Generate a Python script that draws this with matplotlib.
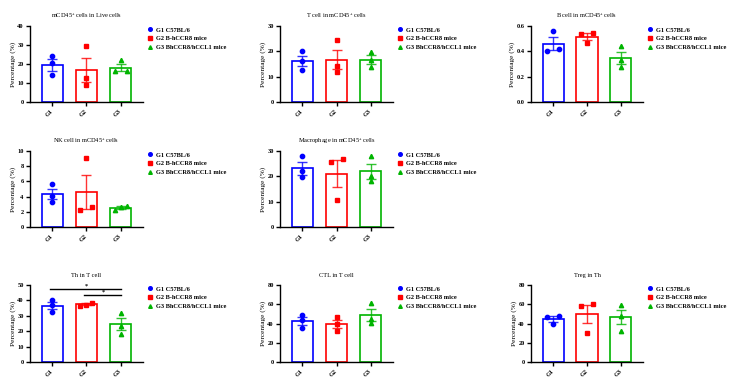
import numpy as np
import matplotlib.pyplot as plt
from matplotlib.lines import Line2D

plt.rcParams['font.family'] = 'Liberation Serif'
plt.rcParams['font.weight'] = 'bold'
plt.rcParams['mathtext.fontset'] = 'custom'
plt.rcParams['mathtext.rm'] = 'Liberation Serif:bold'
plt.rcParams['mathtext.it'] = 'Liberation Serif:bold'
plt.rcParams['mathtext.bf'] = 'Liberation Serif:bold'

groups = ['G1', 'G2', 'G3']
legend_labels = ['G1 C57BL/6', 'G2 B-hCCR8 mice', 'G3 BhCCR8/hCCL1 mice']
colors = ['#0000ff', '#ff0000', '#00b400']
markers = ['o', 's', '^']

# one value per mouse, three mice per group
live_cd45 = [[24.3, 20.4, 14.0], [29.3, 12.4, 8.7], [22.2, 16.1, 16.1]]
tcell_cd45 = [[20.0, 16.0, 12.6], [24.3, 14.2, 11.7], [19.7, 16.5, 13.9]]
bcell_cd45 = [[0.559, 0.418, 0.400], [0.548, 0.540, 0.462], [0.439, 0.334, 0.277]]
nk_cd45 = [[5.66, 4.03, 3.29], [9.08, 2.59, 2.19], [2.76, 2.63, 2.28]]
macro_cd45 = [[28.2, 22.0, 19.6], [26.7, 25.8, 10.5], [27.9, 20.0, 18.3]]
th_t = [[40.3, 37.1, 32.3], [38.6, 37.1, 36.6], [31.7, 23.5, 18.5]]
ctl_t = [[48.7, 43.5, 35.1], [46.3, 39.0, 32.0], [61.6, 44.9, 41.0]]
treg_th = [[48.3, 47.0, 39.3], [60.5, 58.1, 30.6], [59.1, 48.3, 32.7]]

# significance in Th panel: (group a, group b, label)
th_sig = [(0, 2, '*'), (1, 2, '*')]

# title, data, y max, tick step, tick format, row, col
panels = [
    (r'mCD45$^{+}$ cells in Live cells', live_cd45, 40, 10, '%d', 0, 0),
    (r'T cell in mCD45$^{+}$ cells', tcell_cd45, 30, 10, '%d', 0, 1),
    (r'B cell in mCD45$^{+}$ cells', bcell_cd45, 0.6, 0.2, '%.1f', 0, 2),
    (r'NK cell in mCD45$^{+}$ cells', nk_cd45, 10, 2, '%d', 1, 0),
    (r'Macrophage in mCD45$^{+}$ cells', macro_cd45, 30, 10, '%d', 1, 1),
    ('Th in T cell', th_t, 50, 10, '%d', 2, 0),
    ('CTL in T cell', ctl_t, 80, 20, '%d', 2, 1),
    ('Treg in Th', treg_th, 80, 20, '%d', 2, 2),
]

W, H = 742, 383
rows_px = [(26, 102), (151, 227), (285, 362)]
cols_px = [(30, 143), (280, 393), (531, 643)]
fs = 4.6
ms = 3.1


def spread(vals, ymax, h_px, w_units, thresh=3.5, half=6.0):
    # push overlapping points sideways like a prism scatter
    px = np.array(vals) / ymax * h_px
    order = np.argsort(px)
    offs = np.zeros(len(vals))
    clusters = [[order[0]]]
    for i in order[1:]:
        if px[i] - px[clusters[-1][-1]] < thresh:
            clusters[-1].append(i)
        else:
            clusters.append([i])
    for c in clusters:
        if len(c) > 1:
            for k, idx in enumerate(c):
                offs[idx] = np.linspace(-half, half, len(c))[k] / w_units
    return offs


fig = plt.figure(figsize=(W / 100, H / 100), dpi=100)

for title, data, ymax, step, fmt, r, c in panels:
    x0, x1 = cols_px[c]
    y0, y1 = rows_px[r]
    ax = fig.add_axes([x0 / W, 1 - y1 / H, (x1 - x0) / W, (y1 - y0) / H])
    xs = np.arange(len(groups))
    px_per_unit = (x1 - x0) / 3.3
    for i, vals in enumerate(data):
        v = np.array(vals)
        m = v.mean()
        sem = v.std(ddof=1) / np.sqrt(len(v))
        ax.bar(xs[i], m, width=0.62, facecolor='white', edgecolor=colors[i],
               linewidth=1.2, zorder=1)
        offs = spread(v, ymax, y1 - y0, px_per_unit)
        ax.plot(xs[i] + offs, v, linestyle='none', marker=markers[i],
                color=colors[i], markersize=ms, zorder=3, clip_on=False)
        ax.errorbar(xs[i], m, yerr=sem, color=colors[i], elinewidth=1.0,
                    capsize=3.6, capthick=1.0, zorder=4, alpha=0.8)
    ax.set_xlim(-0.65, 2.65)
    ax.set_ylim(0, ymax)
    ticks = np.arange(0, ymax + step / 2, step)
    ax.set_yticks(ticks)
    ax.set_yticklabels([fmt % t for t in ticks])
    ax.set_xticks(xs)
    ax.set_xticklabels(groups, rotation=45, ha='right', va='center',
                       rotation_mode='anchor')
    ax.tick_params(axis='both', labelsize=fs, length=3, width=1, pad=1.5)
    ax.tick_params(axis='x', pad=3)
    for s in ['top', 'right']:
        ax.spines[s].set_visible(False)
    for s in ['left', 'bottom']:
        ax.spines[s].set_linewidth(1.0)
    ax.set_ylabel('Percentage (%)', fontsize=5.3, labelpad=1)
    ax.set_title(title, fontsize=fs, pad=6)

    if data is th_t:
        levels = [0.944, 0.866]
        for (a, b, lab), lv in zip(th_sig, levels):
            ax.plot([a - 0.08, b], [lv * ymax, lv * ymax], color='black',
                    linewidth=1.0, clip_on=False)
            ax.text((a + b) / 2, lv * ymax + 0.01 * ymax, lab, ha='center',
                    va='bottom', fontsize=4.5)

    handles = [Line2D([], [], linestyle='none', marker=markers[i],
                      color=colors[i], markersize=2.6) for i in range(3)]
    ax.legend(handles, legend_labels, loc='upper left',
              bbox_to_anchor=(1.03, 0.985), frameon=False, fontsize=fs,
              handlelength=1.0, handletextpad=0.45, labelspacing=0.5,
              borderpad=0, borderaxespad=0)

fig.savefig('out.png', dpi=100)
